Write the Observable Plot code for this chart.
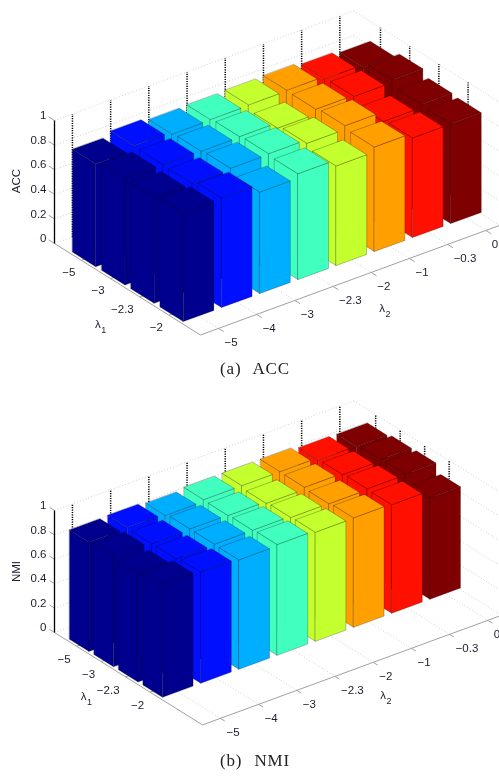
<!DOCTYPE html>
<html><head><meta charset="utf-8">
<script src="https://cdn.jsdelivr.net/npm/d3@7"></script>
<script src="https://cdn.jsdelivr.net/npm/@observablehq/plot@0.6"></script>
<style>
html,body{margin:0;padding:0;background:#fff;width:499px;overflow:hidden}
svg{display:block}
.cap{font-family:"Liberation Serif",serif;font-size:17px;color:#222;text-align:center;word-spacing:1px;letter-spacing:.8px;white-space:pre;padding-left:11px;box-sizing:border-box}
#root{filter:blur(.45px)}
</style></head><body><div id="root"></div>
<script>
// ---- data ----
const lambda1 = ["−5","−3","−2.3","−2"];
const lambda2 = ["−5","−4","−3","−2.3","−2","−1","−0.3","0"];
const zTicks = [0,0.2,0.4,0.6,0.8,1];
const jet = ["#00008f","#0010ff","#00aeff","#40ffbf","#c4ff2e","#ff9f00","#ff1000","#7f0000"];
// one array per λ2 column, values for λ1 = −5, −3, −2.3, −2
const acc1 = [0.835,0.87,0.86,0.885];
const acc2 = [0.87,0.865,0.86,0.89];
const acc3 = [0.85,0.86,0.87,0.825];
const acc4 = [0.855,0.865,0.875,0.86];
const acc5 = [0.86,0.82,0.845,0.81];
const acc6 = [0.865,0.86,0.875,0.85];
const acc7 = [0.845,0.85,0.795,0.81];
const acc8 = [0.825,0.87,0.82,0.81];
const nmi1 = [0.895,0.91,0.887,0.925];
const nmi2 = [0.90,0.893,0.895,0.91];
const nmi3 = [0.885,0.90,0.90,0.897];
const nmi4 = [0.90,0.895,0.90,0.908];
const nmi5 = [0.90,0.88,0.89,0.894];
const nmi6 = [0.90,0.897,0.887,0.897];
const nmi7 = [0.88,0.886,0.895,0.89];
const nmi8 = [0.877,0.895,0.90,0.83];

// ---- layout of each 3-D view ----
const panels = [
 {values:[acc1,acc2,acc3,acc4,acc5,acc6,acc7,acc8], zlabel:"ACC", caption:"(a)  ACC", height:354, capHeight:30, gap:4, top:0,
  origin:[54,243], A:[29.2,18.3], B:[38.2,-14], Z:123, aMax:5, aFirst:.92, bFirst:.47, bMax:7.83,
  l1dy:12, l1:[-42,27], l2:[49,22], zl:[-38,-1], zAt:.5},
 {values:[nmi1,nmi2,nmi3,nmi4,nmi5,nmi6,nmi7,nmi8], zlabel:"NMI", caption:"(b)  NMI", height:358, capHeight:30, gap:0, top:388,
  origin:[54,632], A:[24.5,15.3], B:[38.2,-14], Z:122, aMax:6.04, aFirst:.9, bFirst:.47, bMax:7.83,
  l1dy:13, l1:[-42,19], l2:[48,19], zl:[-38,0], zAt:.5}
];

function draw(p){
  const P = (a,b,z=0) => ({x:p.origin[0]+a*p.A[0]+b*p.B[0], y:p.origin[1]-p.top+a*p.A[1]+b*p.B[1]-z*p.Z});
  const seg = (u,v,extra={}) => ({x1:u.x,y1:u.y,x2:v.x,y2:v.y,...extra});
  const aT = lambda1.map((_,i)=>p.aFirst+i), bT = lambda2.map((_,i)=>p.bFirst+i);

  const wallH=[], wallV=[], floor=[], ticks=[];
  zTicks.forEach(z=>{
    wallH.push(seg(P(0,0,z),P(0,p.bMax,z)));
    wallH.push(seg(P(0,p.bMax,z),P(p.aMax,p.bMax,z)));
    ticks.push(seg(P(0,0,z),P(-.2,0,z)));
  });
  bT.forEach(b=>{
    wallV.push(seg(P(0,b,0),P(0,b,1)));
    floor.push(seg(P(0,b,0),P(p.aMax,b,0)));
    ticks.push(seg(P(p.aMax,b,0),P(p.aMax+.18,b,0)));
  });
  aT.forEach(a=>{
    wallV.push(seg(P(a,p.bMax,0),P(a,p.bMax,1)));
    floor.push(seg(P(a,0,0),P(a,p.bMax,0)));
    ticks.push(seg(P(a,0,0),P(a,.15,0)));
  });
  const axes=[seg(P(0,0),P(p.aMax,0)),seg(P(p.aMax,0),P(p.aMax,p.bMax))];

  // bars, painted from the back to the front
  const faces=[]; const w=.4;
  for(let c=7;c>=0;c--) for(let r=0;r<4;r++){
    const a=aT[r], b=bT[c], h=p.values[c][r], color=jet[c];
    const quads=[
      [P(a-w,b-w,0),P(a+w,b-w,0),P(a+w,b-w,h),P(a-w,b-w,h)],
      [P(a+w,b-w,0),P(a+w,b+w,0),P(a+w,b+w,h),P(a+w,b-w,h)],
      [P(a-w,b-w,h),P(a+w,b-w,h),P(a+w,b+w,h),P(a-w,b+w,h)]
    ];
    quads.forEach((q,k)=>q.forEach(pt=>faces.push({...pt,id:`${c}-${r}-${k}`,color})));
  }

  const zLab=zTicks.map(z=>({...P(0,0,z),t:String(z)}));
  const aLab=lambda1.map((t,i)=>({...P(aT[i],0),t}));
  const bLab=lambda2.map((t,i)=>({...P(p.aMax,bT[i]),t}));
  const l1=P(aT[2],0), l2=P(p.aMax,bT[3]), zc=P(0,0,p.zAt);
  const font={fontFamily:"Liberation Sans, Arial, sans-serif",fontSize:11.5,fill:"#1c1c2c"};
  const link=(d,o)=>Plot.link(d,{x1:"x1",y1:"y1",x2:"x2",y2:"y2",...o});
  const lambdaLabel=(at,off,sub)=>[
    Plot.text([at],{x:"x",y:"y",text:()=>"λ",dx:off[0],dy:off[1],...font}),
    Plot.text([at],{x:"x",y:"y",text:()=>sub,dx:off[0]+6,dy:off[1]+6,...font,fontSize:9})
  ];

  return Plot.plot({
    width:499,height:p.height,margin:0,
    x:{domain:[0,499],range:[0,499],axis:null},
    y:{domain:[0,p.height],range:[0,p.height],axis:null},
    color:{type:"identity"},
    marks:[
      link(wallH,{stroke:"#c4c4c4",strokeWidth:.8,strokeDasharray:"1,2"}),
      link(floor,{stroke:"#c4c4c4",strokeWidth:.8,strokeDasharray:"1,2"}),
      link(wallV,{stroke:"#000",strokeWidth:1.5,strokeDasharray:"1.2,1.2"}),
      link(axes,{stroke:"#a0a0a0",strokeWidth:1}),
      link(ticks,{stroke:"#a0a0a0",strokeWidth:1}),
      link([seg(P(0,0,0),P(0,0,1))],{stroke:"#000",strokeWidth:1.3}),
      Plot.line(faces,{x:"x",y:"y",z:"id",fill:"color",stroke:"#000",strokeOpacity:.3,strokeWidth:.8,curve:"linear-closed"}),
      Plot.text(zLab,{x:"x",y:"y",text:"t",textAnchor:"end",dx:-8,dy:-5,...font}),
      Plot.text(aLab,{x:"x",y:"y",text:"t",textAnchor:"end",dx:-6,dy:p.l1dy,...font}),
      Plot.text(bLab,{x:"x",y:"y",text:"t",textAnchor:"start",dx:6,dy:14,...font}),
      ...lambdaLabel(l1,p.l1,"1"),
      ...lambdaLabel(l2,p.l2,"2"),
      Plot.text([zc],{x:"x",y:"y",text:()=>p.zlabel,rotate:-90,dx:p.zl[0],dy:p.zl[1],...font})
    ]
  });
}
const root=document.getElementById("root");
panels.forEach(p=>{
  root.append(draw(p));
  const cap=document.createElement("div");
  cap.className="cap"; cap.textContent=p.caption;
  cap.style.height=p.capHeight+"px"; cap.style.lineHeight=p.capHeight+"px";
  cap.style.marginBottom=p.gap+"px";
  root.append(cap);
});
</script></body></html>
